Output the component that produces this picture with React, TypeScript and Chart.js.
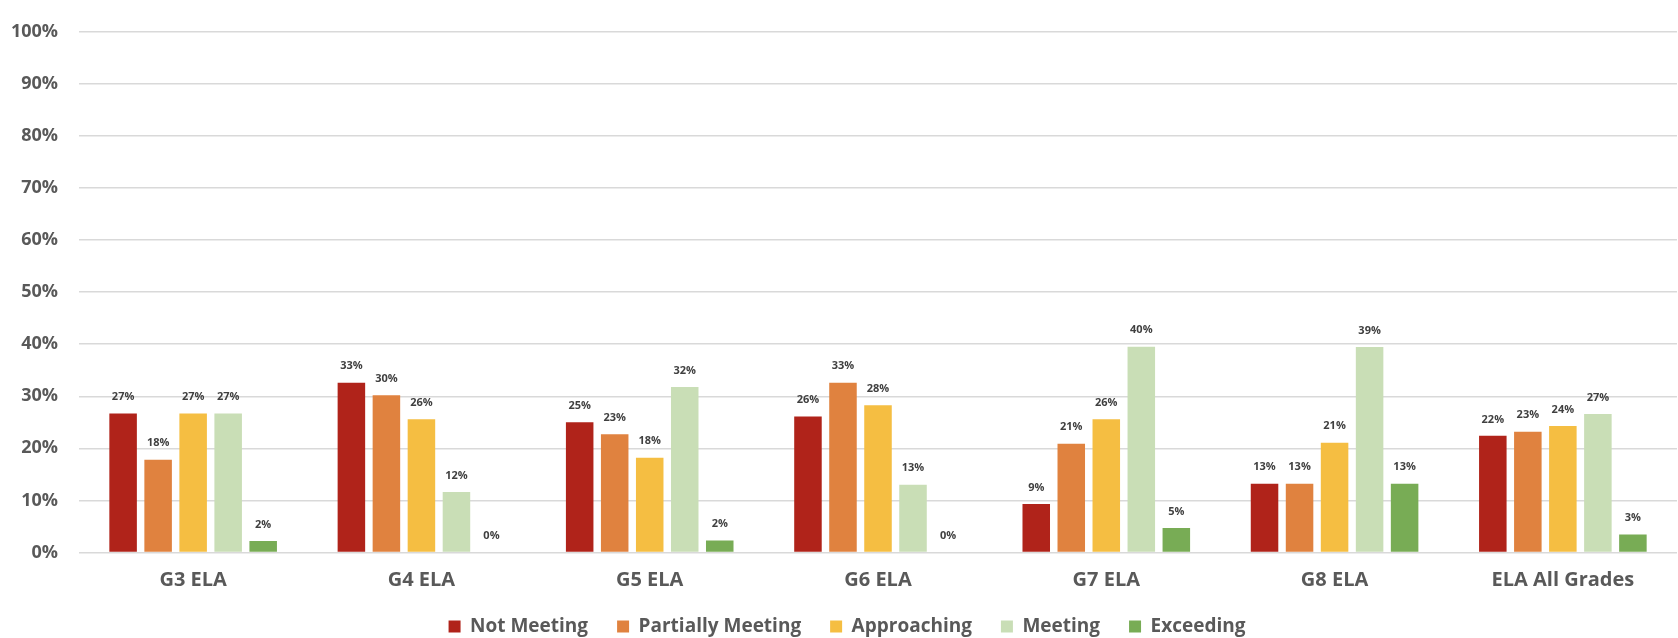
import React, { useEffect, useRef } from "react";
import { Chart, registerables } from "chart.js";

Chart.register(...registerables);

const categories = ["G3 ELA", "G4 ELA", "G5 ELA", "G6 ELA", "G7 ELA", "G8 ELA", "ELA All Grades"];
const seriesNames = ["Not Meeting", "Partially Meeting", "Approaching", "Meeting", "Exceeding"];
const seriesColors = ["#B0231A", "#E0823F", "#F5BE42", "#C9DEB6", "#78AC55"];
const notMeeting = [26.7, 32.6, 25.0, 26.1, 9.3, 13.2, 22.4];
const partiallyMeeting = [17.8, 30.2, 22.7, 32.6, 20.9, 13.2, 23.2];
const approaching = [26.7, 25.6, 18.2, 28.3, 25.6, 21.1, 24.3];
const meeting = [26.7, 11.6, 31.8, 13.0, 39.53, 39.47, 26.6];
const exceeding = [2.2, 0, 2.3, 0, 4.7, 13.2, 3.47];
const seriesValues = [notMeeting, partiallyMeeting, approaching, meeting, exceeding];
const yMin = 0;
const yMax = 100;
const yStep = 10;

const FONT = "'Open Sans', 'DejaVu Sans', sans-serif";

const valueLabels = {
  id: "valueLabels",
  afterDatasetsDraw(chart: any) {
    const ctx = chart.ctx;
    ctx.save();
    ctx.font = `bold 11px ${FONT}`;
    ctx.fillStyle = "#404040";
    ctx.textAlign = "center";
    ctx.textBaseline = "middle";
    chart.data.datasets.forEach((ds: any, di: number) => {
      const meta = chart.getDatasetMeta(di);
      meta.data.forEach((bar: any, i: number) => {
        const v = ds.data[i];
        ctx.fillText(`${Math.round(v)}%`, bar.x, bar.y - 16.5);
      });
    });
    ctx.restore();
  },
};

const legendShift = {
  id: "legendShift",
  afterLayout(chart: any) {
    if (chart.legend) chart.legend.left += 17;
  },
};

export default function App() {
  const ref = useRef<HTMLCanvasElement | null>(null);

  useEffect(() => {
    if (!ref.current) return;
    const chart = new Chart(ref.current, {
      type: "bar",
      data: {
        labels: categories,
        datasets: seriesNames.map((name, i) => ({
          label: name,
          data: seriesValues[i],
          backgroundColor: seriesColors[i],
          borderWidth: 0,
          categoryPercentage: 0.767,
          barPercentage: 0.786,
        })),
      },
      options: {
        animation: false,
        responsive: true,
        maintainAspectRatio: false,
        layout: { padding: { top: 15.7, right: 1, bottom: 0, left: 0 } },
        plugins: {
          tooltip: { enabled: false },
          legend: {
            position: "bottom",
            labels: {
              boxWidth: 12,
              boxHeight: 12,
              padding: 29,
              color: "#595959",
              font: { family: FONT, size: 19, weight: "bold" },
            },
          },
        },
        scales: {
          x: {
            grid: { display: false, drawTicks: false },
            border: { display: false },
            ticks: {
              color: "#595959",
              padding: 16,
              font: { family: FONT, size: 20, weight: "bold" },
            },
            afterFit(scale: any) {
              scale.height = 35.5;
            },
          },
          y: {
            min: yMin,
            max: yMax,
            grid: { color: "#D9D9D9", lineWidth: 1.5, drawTicks: false },
            border: { display: false },
            ticks: {
              stepSize: yStep,
              padding: 21,
              color: "#595959",
              font: { family: FONT, size: 18, weight: "bold" },
              callback: (v: any) => `${v}%`,
            },
            afterFit(scale: any) {
              scale.width = 79;
            },
          },
        },
      },
      plugins: [valueLabels, legendShift],
    });
    return () => chart.destroy();
  }, []);

  return (
    <div style={{ position: "fixed", left: 0, top: 0, width: 1678, height: 646, background: "#fff" }}>
      <canvas ref={ref} />
    </div>
  );
}
